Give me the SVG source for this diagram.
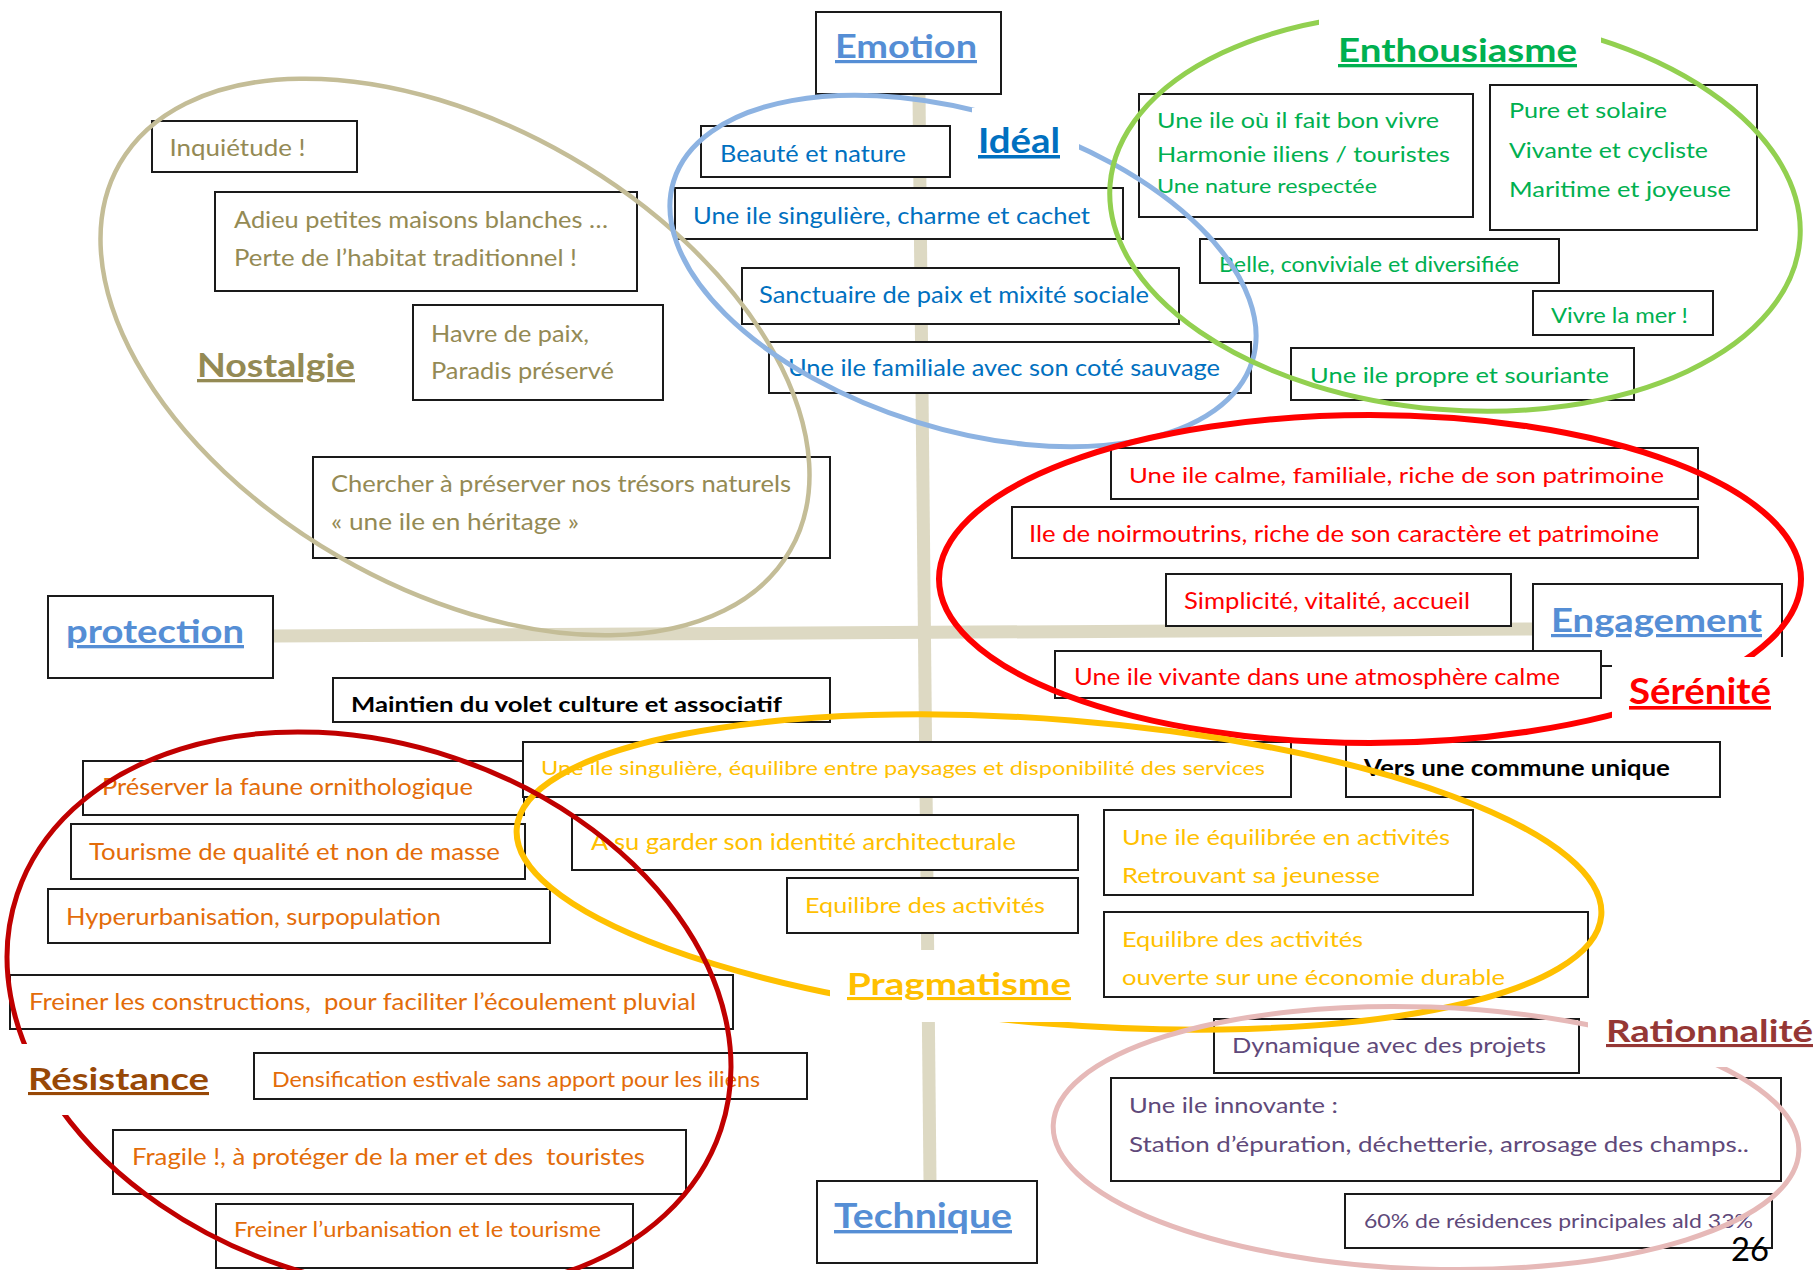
<svg xmlns="http://www.w3.org/2000/svg" width="1820" height="1270" viewBox="0 0 1820 1270">
<style>
text{font-family:Lato,"Liberation Sans","Noto Sans",sans-serif}
.box{fill:#fff;stroke:#1a1a1a;stroke-width:2}
.bg{fill:#fff;stroke:none}
.lbl{font-weight:700;text-decoration:underline;text-decoration-thickness:3px;text-underline-offset:5px}
.axis{stroke:#DDD9C3;stroke-width:13;fill:none}
.ell{fill:none}
.ol{fill:#948A54}.bl{fill:#0070C0}.gr{fill:#00B050}.rd{fill:#FF0000}.or{fill:#E36C09}.ye{fill:#FFC000}.pu{fill:#5F497A}.bk{fill:#000}.ax{fill:#558ED5}
</style>
<rect width="1820" height="1270" fill="#fff"/>
<g id="connectors">
<line class="axis" x1="273" y1="636" x2="1535" y2="629"/>
<line class="axis" x1="919" y1="94" x2="930" y2="1181"/>
</g>
<g id="emotion"><rect class="box" x="816" y="12" width="185" height="82"/><text class="lbl ax" x="835" y="58" font-size="32" textLength="142" lengthAdjust="spacingAndGlyphs">Emotion</text></g>
<g id="protection"><rect class="box" x="48" y="596" width="225" height="82"/><text class="lbl ax" x="66" y="643" font-size="33" textLength="178" lengthAdjust="spacingAndGlyphs">protection</text></g>
<g id="technique"><rect class="box" x="817" y="1181" width="220" height="82"/><text class="lbl ax" x="834" y="1228" font-size="34" textLength="178" lengthAdjust="spacingAndGlyphs">Technique</text></g>
<g id="engagement"><rect class="box" x="1533" y="584" width="249" height="82"/><text class="lbl ax" x="1551" y="632" font-size="32" textLength="211" lengthAdjust="spacingAndGlyphs">Engagement</text></g>

<g id="n-inquietude"><rect class="box" x="152" y="121" width="205" height="51"/><text class="ol" x="169.5" y="156" font-size="24" textLength="136" lengthAdjust="spacingAndGlyphs">Inquiétude !</text></g>
<g id="n-adieu"><rect class="box" x="215" y="192" width="422" height="99"/><text class="ol" x="234" y="228" font-size="24" textLength="374" lengthAdjust="spacingAndGlyphs">Adieu petites maisons blanches …</text><text class="ol" x="234" y="266" font-size="24" textLength="343" lengthAdjust="spacingAndGlyphs">Perte de l’habitat traditionnel !</text></g>
<g id="n-havre"><rect class="box" x="413" y="305" width="250" height="95"/><text class="ol" x="431" y="342" font-size="24" textLength="158" lengthAdjust="spacingAndGlyphs">Havre de paix,</text><text class="ol" x="431" y="379" font-size="24" textLength="183" lengthAdjust="spacingAndGlyphs">Paradis préservé</text></g>
<g id="n-chercher"><rect class="box" x="313" y="457" width="517" height="101"/><text class="ol" x="331" y="492" font-size="24" textLength="460" lengthAdjust="spacingAndGlyphs">Chercher à préserver nos trésors naturels</text><text class="ol" x="331" y="530" font-size="24" textLength="248" lengthAdjust="spacingAndGlyphs">« une ile en héritage »</text></g>

<g id="n-beaute"><rect class="box" x="701" y="126" width="249" height="51"/><text class="bl" x="720" y="162" font-size="24" textLength="186" lengthAdjust="spacingAndGlyphs">Beauté et nature</text></g>
<g id="n-singuliere"><rect class="box" x="675" y="188" width="448" height="51"/><text class="bl" x="693" y="224" font-size="24" textLength="397" lengthAdjust="spacingAndGlyphs">Une ile singulière, charme et cachet</text></g>
<g id="n-sanctuaire"><rect class="box" x="742" y="268" width="437" height="56"/><text class="bl" x="759" y="303" font-size="24" textLength="390" lengthAdjust="spacingAndGlyphs">Sanctuaire de paix et mixité sociale</text></g>
<g id="n-familiale"><rect class="box" x="769" y="342" width="482" height="51"/><text class="bl" x="788" y="376" font-size="24" textLength="432" lengthAdjust="spacingAndGlyphs">Une ile familiale avec son coté sauvage</text></g>

<g id="n-bonvivre"><rect class="box" x="1139" y="94" width="334" height="123"/><text class="gr" x="1157" y="128" font-size="21" textLength="282" lengthAdjust="spacingAndGlyphs">Une ile où il fait bon vivre</text><text class="gr" x="1157" y="162" font-size="21" textLength="293" lengthAdjust="spacingAndGlyphs">Harmonie iliens / touristes</text><text class="gr" x="1157" y="193" font-size="20" textLength="220" lengthAdjust="spacingAndGlyphs">Une nature respectée</text></g>
<g id="n-pure"><rect class="box" x="1490" y="85" width="267" height="145"/><text class="gr" x="1509" y="118" font-size="21" textLength="158" lengthAdjust="spacingAndGlyphs">Pure et solaire</text><text class="gr" x="1509" y="158" font-size="21" textLength="199" lengthAdjust="spacingAndGlyphs">Vivante et cycliste</text><text class="gr" x="1509" y="197" font-size="21" textLength="222" lengthAdjust="spacingAndGlyphs">Maritime et joyeuse</text></g>
<g id="n-belle"><rect class="box" x="1200" y="239" width="359" height="44"/><text class="gr" x="1219" y="272" font-size="21" textLength="300" lengthAdjust="spacingAndGlyphs">Belle, conviviale et diversifiée</text></g>
<g id="n-vivre"><rect class="box" x="1533" y="291" width="180" height="44"/><text class="gr" x="1551" y="323" font-size="21" textLength="137" lengthAdjust="spacingAndGlyphs">Vivre la mer !</text></g>
<g id="n-propre"><rect class="box" x="1291" y="348" width="343" height="52"/><text class="gr" x="1310" y="383" font-size="22" textLength="299" lengthAdjust="spacingAndGlyphs">Une ile propre et souriante</text></g>

<g id="n-calme"><rect class="box" x="1111" y="448" width="587" height="51"/><text class="rd" x="1129" y="483" font-size="22" textLength="535" lengthAdjust="spacingAndGlyphs">Une ile calme, familiale, riche de son patrimoine</text></g>
<g id="n-noirmoutrins"><rect class="box" x="1012" y="507" width="686" height="51"/><text class="rd" x="1029" y="542" font-size="23" textLength="630" lengthAdjust="spacingAndGlyphs">Ile de noirmoutrins, riche de son caractère et patrimoine</text></g>
<g id="n-simplicite"><rect class="box" x="1166" y="574" width="345" height="52"/><text class="rd" x="1184" y="609" font-size="24" textLength="286" lengthAdjust="spacingAndGlyphs">Simplicité, vitalité, accueil</text></g>
<g id="n-vivante"><rect class="box" x="1055" y="651" width="546" height="47"/><text class="rd" x="1074" y="685" font-size="24" textLength="486" lengthAdjust="spacingAndGlyphs">Une ile vivante dans une atmosphère calme</text></g>

<g id="n-maintien"><rect class="box" x="333" y="678" width="497" height="44"/><text class="bk" x="351" y="712" font-size="21" font-weight="700" textLength="431" lengthAdjust="spacingAndGlyphs">Maintien du volet culture et associatif</text></g>
<g id="n-vers"><rect class="box" x="1346" y="742" width="374" height="55"/><text class="bk" x="1364" y="776" font-size="22" font-weight="700" textLength="306" lengthAdjust="spacingAndGlyphs">Vers une commune unique</text></g>

<g id="n-preserver"><rect class="box" x="83" y="761" width="441" height="54"/><text class="or" x="102" y="795" font-size="24" textLength="371" lengthAdjust="spacingAndGlyphs">Préserver la faune ornithologique</text></g>
<g id="n-tourisme"><rect class="box" x="71" y="824" width="454" height="55"/><text class="or" x="89" y="860" font-size="23" textLength="411" lengthAdjust="spacingAndGlyphs">Tourisme de qualité et non de masse</text></g>
<g id="n-hyper"><rect class="box" x="48" y="889" width="502" height="54"/><text class="or" x="66" y="925" font-size="24" textLength="375" lengthAdjust="spacingAndGlyphs">Hyperurbanisation, surpopulation</text></g>
<g id="n-freiner1"><rect class="box" x="10" y="975" width="723" height="54"/><text class="or" x="29" y="1010" font-size="24" textLength="667" lengthAdjust="spacingAndGlyphs" xml:space="preserve">Freiner les constructions,  pour faciliter l’écoulement pluvial</text></g>
<g id="n-densification"><rect class="box" x="254" y="1053" width="553" height="46"/><text class="or" x="272" y="1087" font-size="22" textLength="488" lengthAdjust="spacingAndGlyphs">Densification estivale sans apport pour les iliens</text></g>
<g id="n-fragile"><rect class="box" x="113" y="1130" width="573" height="64"/><text class="or" x="132" y="1165" font-size="23" textLength="513" lengthAdjust="spacingAndGlyphs" xml:space="preserve">Fragile !, à protéger de la mer et des  touristes</text></g>
<g id="n-freiner2"><rect class="box" x="216" y="1204" width="417" height="64"/><text class="or" x="234" y="1237" font-size="21" textLength="367" lengthAdjust="spacingAndGlyphs">Freiner l’urbanisation et le tourisme</text></g>

<g id="n-equilibre-services"><rect class="box" x="523" y="742" width="768" height="55"/><text class="ye" x="541" y="775" font-size="19" textLength="724" lengthAdjust="spacingAndGlyphs">Une ile singulière, équilibre entre paysages et disponibilité des services</text></g>
<g id="n-identite"><rect class="box" x="572" y="815" width="506" height="55"/><text class="ye" x="591" y="850" font-size="24" textLength="425" lengthAdjust="spacingAndGlyphs">A su garder son identité architecturale</text></g>
<g id="n-equilibre1"><rect class="box" x="787" y="878" width="291" height="55"/><text class="ye" x="805" y="913" font-size="21" textLength="240" lengthAdjust="spacingAndGlyphs">Equilibre des activités</text></g>
<g id="n-jeunesse"><rect class="box" x="1104" y="810" width="369" height="85"/><text class="ye" x="1122" y="845" font-size="21" textLength="328" lengthAdjust="spacingAndGlyphs">Une ile équilibrée en activités</text><text class="ye" x="1122" y="883" font-size="21" textLength="258" lengthAdjust="spacingAndGlyphs">Retrouvant sa jeunesse</text></g>
<g id="n-durable"><rect class="box" x="1104" y="912" width="484" height="85"/><text class="ye" x="1122" y="947" font-size="21" textLength="241" lengthAdjust="spacingAndGlyphs">Equilibre des activités</text><text class="ye" x="1122" y="985" font-size="21" textLength="383" lengthAdjust="spacingAndGlyphs">ouverte sur une économie durable</text></g>

<g id="n-dynamique"><rect class="box" x="1214" y="1019" width="365" height="54"/><text class="pu" x="1232" y="1053" font-size="21" textLength="314" lengthAdjust="spacingAndGlyphs">Dynamique avec des projets</text></g>
<g id="n-innovante"><rect class="box" x="1111" y="1078" width="670" height="103"/><text class="pu" x="1129" y="1113" font-size="21" textLength="209" lengthAdjust="spacingAndGlyphs">Une ile innovante :</text><text class="pu" x="1129" y="1152" font-size="21" textLength="620" lengthAdjust="spacingAndGlyphs">Station d’épuration, déchetterie, arrosage des champs..</text></g>
<g id="n-residences"><rect class="box" x="1345" y="1194" width="427" height="54"/><text class="pu" x="1364" y="1228" font-size="20" textLength="389" lengthAdjust="spacingAndGlyphs">60% de résidences principales ald 33%</text></g>

<g id="c-nostalgie"><ellipse class="ell" cx="455" cy="357" rx="387" ry="231" transform="rotate(30 455 357)" stroke="#C4BD97" stroke-width="4.5"/><text class="lbl ol" x="197" y="377" font-size="33" textLength="158" lengthAdjust="spacingAndGlyphs">Nostalgie</text></g>
<g id="c-ideal"><ellipse class="ell" cx="963" cy="271" rx="303" ry="158" transform="rotate(17.3 963 271)" stroke="#8DB3E2" stroke-width="5"/><rect class="bg" x="972" y="108" width="107" height="62"/><text class="lbl bl" x="978" y="153" font-size="35" textLength="82" lengthAdjust="spacingAndGlyphs">Idéal</text></g>
<g id="c-enthousiasme"><ellipse class="ell" cx="1455" cy="212" rx="346" ry="198" transform="rotate(4.6 1455 212)" stroke="#92D050" stroke-width="5"/><rect class="bg" x="1319" y="6" width="282" height="76"/><text class="lbl gr" x="1338" y="62" font-size="33" textLength="239" lengthAdjust="spacingAndGlyphs">Enthousiasme</text></g>
<g id="c-serenite"><ellipse class="ell" cx="1370" cy="579" rx="431" ry="164" stroke="#FF0000" stroke-width="6"/><rect class="bg" x="1612" y="657" width="185" height="70"/><text class="lbl rd" x="1629" y="704" font-size="36" textLength="142" lengthAdjust="spacingAndGlyphs">Sérénité</text></g>
<g id="c-pragmatisme"><ellipse class="ell" cx="1059" cy="872" rx="544" ry="152" transform="rotate(4.6 1059 872)" stroke="#FFC000" stroke-width="6"/><rect class="bg" x="830" y="950" width="255" height="72"/><text class="lbl ye" x="847" y="995" font-size="31" textLength="224" lengthAdjust="spacingAndGlyphs">Pragmatisme</text></g>
<g id="c-resistance"><ellipse class="ell" cx="369" cy="1012" rx="371" ry="268" transform="rotate(18.5 369 1012)" stroke="#C00000" stroke-width="5"/><rect class="bg" x="4" y="1044" width="211" height="71"/><text class="lbl" fill="#984806" x="28" y="1090" font-size="31" textLength="181" lengthAdjust="spacingAndGlyphs">Résistance</text></g>
<g id="c-rationnalite"><ellipse class="ell" cx="1426" cy="1138" rx="373" ry="131" transform="rotate(2 1426 1138)" stroke="#E6B9B8" stroke-width="5"/><rect class="bg" x="1588" y="1000" width="232" height="67"/><text class="lbl" fill="#953735" x="1606" y="1042" font-size="31" textLength="207" lengthAdjust="spacingAndGlyphs">Rationnalité</text></g>
<g id="page-number"><text class="bk" x="1731" y="1261" font-size="32" textLength="38" lengthAdjust="spacingAndGlyphs">26</text></g>
</svg>
